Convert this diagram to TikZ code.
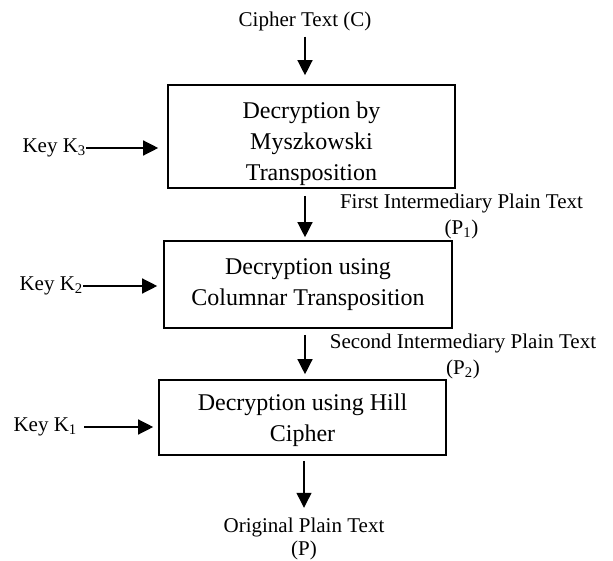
\documentclass[tikz,border=0pt]{standalone}
\usepackage{fontspec}
\setmainfont{Liberation Serif}
\usetikzlibrary{arrows.meta}

\tikzset{
	stage/.style={draw, line width=1.6pt, align=center, inner sep=0pt, font=\fontsize{24}{31}\selectfont},
	label/.style={align=center, inner sep=0pt, font=\fontsize{21}{26}\selectfont},
	flow/.style={line width=1.3pt, -{Triangle[length=15pt,width=15pt]}}
}

\begin{document}
\begin{tikzpicture}[x=1pt,y=-1pt]
		\useasboundingbox (0,0) rectangle (613,561);

		\node[label] (cipher) at (305,21) {Cipher Text (C)};
		\node[stage, minimum width=287pt, minimum height=103pt, text height=94pt] (dec1) at (311.5,136.5) {Decryption by\\Myszkowski\\Transposition};
		\node[stage, minimum width=288pt, minimum height=87pt] (dec2) at (308,284.5) {Decryption using\\Columnar Transposition};
		\node[stage, minimum width=287pt, minimum height=75pt, text height=53pt] (dec3) at (302.5,417.5) {Decryption using Hill\\Cipher};

		\node[label] (plain1) at (461.5,216) {First Intermediary Plain Text\\(P\textsubscript{1})};
		\node[label] (plain2) at (463,356) {Second Intermediary Plain Text\\(P\textsubscript{2})};
		\node[label, font=\fontsize{21}{23}\selectfont] (orig) at (304,539) {Original Plain Text\\(P)};

		\node[label, anchor=east] (key3) at (86,148) {Key K\textsubscript{3}};
		\node[label, anchor=east] (key2) at (83,286) {Key K\textsubscript{2}};
		\node[label, anchor=east] (key1) at (77,427) {Key K\textsubscript{1}};

		% main chain
		\draw[flow, shorten <=6pt, shorten >=9pt] (cipher.south) -- (cipher.south |- dec1.north);
		\draw[flow, shorten <=7pt, shorten >=3pt] (dec1.south -| 305,0) -- (dec2.north -| 305,0);
		\draw[flow, shorten <=6pt, shorten >=5pt] (dec2.south -| 305,0) -- (dec3.north -| 305,0);
		\draw[flow, shorten <=5pt, shorten >=10pt] (dec3.south -| 304,0) -- (orig.north);

		% keys
		\draw[flow, shorten >=9pt] (key3.east) -- (dec1.west |- key3.east);
		\draw[flow, shorten >=6pt] (key2.east) -- (dec2.west |- key2.east);
		\draw[flow, shorten <=7pt, shorten >=5pt] (key1.east) -- (dec3.west |- key1.east);
	\end{tikzpicture}
\end{document}
